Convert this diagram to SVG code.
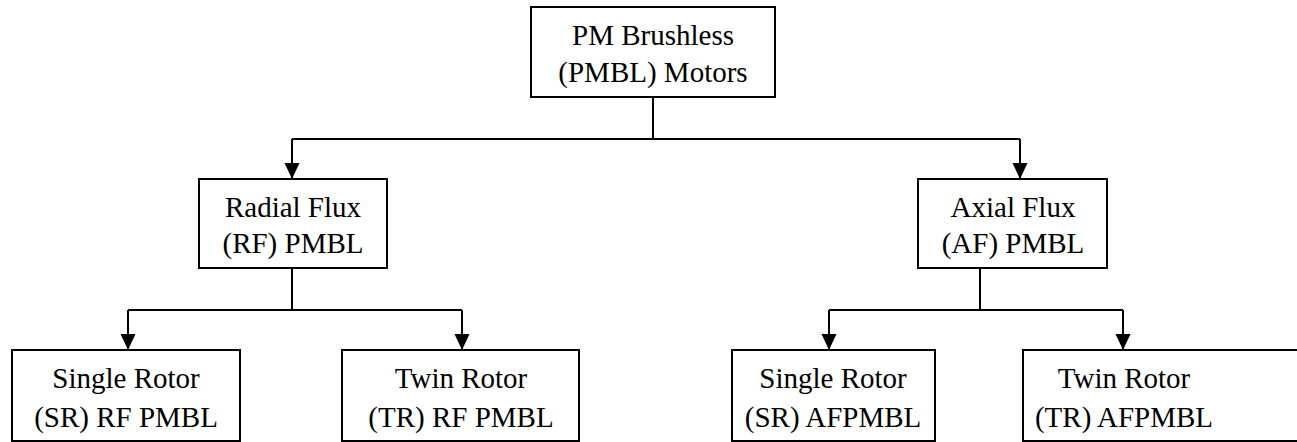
<svg xmlns="http://www.w3.org/2000/svg" width="1297" height="442" viewBox="0 0 1297 442">
<style>
.box{fill:#fff;stroke:#000;stroke-width:2}
.t{font-family:'Liberation Serif','Times New Roman',serif;font-size:29px;fill:#000;text-anchor:middle}
.c{fill:none;stroke:#000;stroke-width:2}
</style>
<defs>
<marker id="ah" markerUnits="userSpaceOnUse" markerWidth="16" markerHeight="17" viewBox="0 0 16 17" refX="16" refY="8" orient="auto">
<path d="M0,0.5 L16,8 L0,15.5 Z" fill="#000"/>
</marker>
</defs>
<g id="connectors">
<path class="c" d="M653,97 V139"/>
<path class="c" d="M292,139 H1020"/>
<path class="c" d="M292,139 V179" marker-end="url(#ah)"/>
<path class="c" d="M1020,139 V179" marker-end="url(#ah)"/>
<path class="c" d="M292,268 V310 M128,310 H462 M980,268 V310 M829,310 H1123"/>
<path class="c" d="M128,310 V350" marker-end="url(#ah)"/>
<path class="c" d="M462,310 V350" marker-end="url(#ah)"/>
<path class="c" d="M829,310 V350" marker-end="url(#ah)"/>
<path class="c" d="M1123,310 V350" marker-end="url(#ah)"/>
</g>
<g id="root">
<rect class="box" x="531" y="7" width="244" height="90"/>
<text class="t" x="653" y="45">PM Brushless</text>
<text class="t" x="653" y="82">(PMBL) Motors</text>
</g>
<g id="radial">
<rect class="box" x="199" y="179" width="188" height="89"/>
<text class="t" x="293" y="217">Radial Flux</text>
<text class="t" x="293" y="253">(RF) PMBL</text>
</g>
<g id="axial">
<rect class="box" x="918" y="179" width="189" height="89"/>
<text class="t" x="1013" y="217">Axial Flux</text>
<text class="t" x="1013" y="253">(AF) PMBL</text>
</g>
<g id="sr-rf">
<rect class="box" x="12" y="350" width="228" height="91"/>
<text class="t" x="126" y="388">Single Rotor</text>
<text class="t" x="126" y="427">(SR) RF PMBL</text>
</g>
<g id="tr-rf">
<rect class="box" x="342" y="350" width="237" height="91"/>
<text class="t" x="461" y="388">Twin Rotor</text>
<text class="t" x="461" y="427">(TR) RF PMBL</text>
</g>
<g id="sr-af">
<rect class="box" x="732" y="350" width="203" height="91"/>
<text class="t" x="833" y="388">Single Rotor</text>
<text class="t" x="833" y="427">(SR) AFPMBL</text>
</g>
<g id="tr-af">
<rect class="box" x="1023" y="350" width="280" height="91"/>
<text class="t" x="1124" y="388">Twin Rotor</text>
<text class="t" x="1124" y="427">(TR) AFPMBL</text>
</g>
</svg>
